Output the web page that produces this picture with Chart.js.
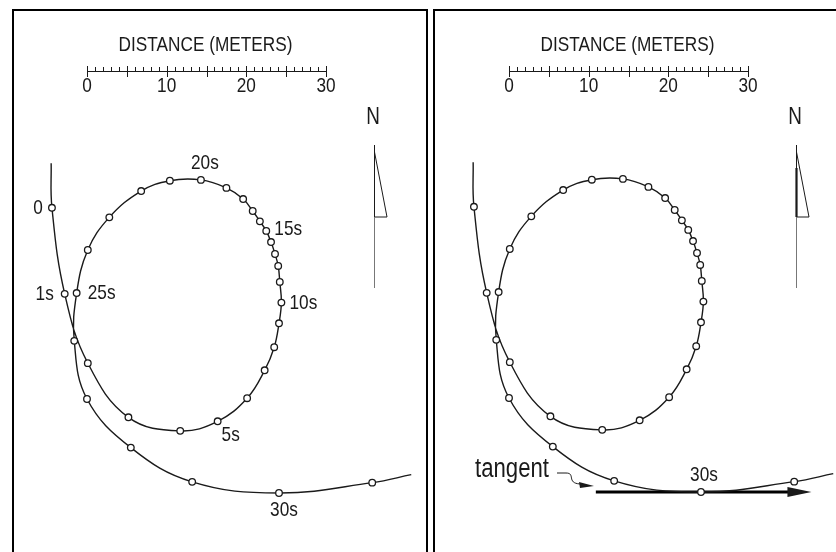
<!DOCTYPE html>
<html>
<head>
<meta charset="utf-8">
<script src="https://cdn.jsdelivr.net/npm/chart.js@4.4.1/dist/chart.umd.min.js"></script>
<style>
  html, body { margin: 0; padding: 0; background: #fff; }
  body { width: 836px; height: 552px; position: relative; overflow: hidden; }
  .frame { position: absolute; border: 2px solid #000; box-sizing: border-box; }
  canvas { position: absolute; }
</style>
</head>
<body>
<div class="frame" style="left:12px; top:9px; width:416px; height:600px;"></div>
<div class="frame" style="left:433px; top:9px; width:420px; height:600px;"></div>
<canvas id="left" width="412" height="541" style="left:14px; top:11px;"></canvas>
<canvas id="right" width="401" height="541" style="left:435px; top:11px;"></canvas>
<script>
// path of the object, meters east / north; first and last entries only extend the line
const timeSec = [null, 0, 1, 2, 3, 4, 5, 6, 7, 8, 9, 10, 11, 12, 13, 14, 15,
  16, 17, 18, 19, 20, 21, 22, 23, 24, 25, 26, 27, 28, 29, 30, 31, null];
const pathX = [-4.5, -4.4, -2.8, 0.1, 5.2, 11.7, 16.4, 20.1, 22.3, 23.5, 24.1,
  24.4, 24.2, 24.0, 23.6, 23.1, 22.5, 21.7, 20.8, 19.6, 17.5, 14.3, 10.4, 6.8,
  2.8, 0.1, -1.3, -1.6, 0.0, 5.5, 13.2, 24.1, 35.8, 40.7];
const pathY = [41.4, 35.8, 25.0, 16.3, 9.5, 7.8, 9.0, 11.9, 15.4, 18.3, 21.3,
  23.9, 26.5, 28.5, 30.0, 31.5, 32.9, 34.1, 35.4, 36.9, 38.3, 39.3, 39.2, 37.9,
  34.6, 30.5, 25.1, 19.1, 11.8, 5.7, 1.4, 0.0, 1.3, 2.3];

// labelled times on the left panel
const labelTimes = [0, 1, 5, 10, 15, 20, 25, 30];
const labelText = ["0", "1s", "5s", "10s", "15s", "20s", "25s", "30s"];
const labelOffset = [[-14, 0], [-20, 0], [13, 14], [22, 1], [22, -2], [4, -17], [25, 0], [5, 17]];

// scale bar
const barTicks = [0, 10, 20, 30];
const barMax = 30;

// tangent at 30 s (meters)
const tangentX = [10.9, 35.2];
const tangentY = [0, 0];

const PX_PER_M = 239 / 30;
const FONT = '"Liberation Sans", Arial, sans-serif';
const NARROW = 0.82;
const INK = "#1a1a1a";

const pathData = pathX.map((x, i) => ({ x: x, y: pathY[i] }));
const last = pathData.length - 1;

// condensed text: regular face squeezed horizontally
function text(ctx, str, x, y, size) {
  ctx.save();
  ctx.translate(x, y);
  ctx.scale(NARROW, 1);
  ctx.font = size + "px " + FONT;
  ctx.fillText(str, 0, 0);
  ctx.restore();
}

const drawings = {
  id: "drawings",
  afterDraw(chart, args, opts) {
    const ctx = chart.ctx;
    const xs = chart.scales.x, ys = chart.scales.y;
    const ox = opts.left, oy = opts.top;
    ctx.save();
    ctx.fillStyle = INK;
    ctx.strokeStyle = INK;
    ctx.textAlign = "center";
    ctx.textBaseline = "middle";

    // distance scale bar
    const by = 71 - oy;
    const bx0 = xs.getPixelForValue(0), bx1 = xs.getPixelForValue(barMax);
    ctx.lineWidth = 1;
    ctx.beginPath();
    ctx.moveTo(bx0, by + 0.5);
    ctx.lineTo(bx1, by + 0.5);
    for (let v = 0; v <= barMax; v++) {
      const px = Math.round(xs.getPixelForValue(v)) + 0.5;
      if (v % 5 === 0) {
        ctx.moveTo(px, by - 5);
        ctx.lineTo(px, by + 6);
      } else {
        ctx.moveTo(px, by - 4);
        ctx.lineTo(px, by + 0.5);
      }
    }
    ctx.stroke();
    text(ctx, "DISTANCE (METERS)", (bx0 + bx1) / 2 - 1, 45 - oy, 21);
    barTicks.forEach(v => text(ctx, String(v), xs.getPixelForValue(v), 86 - oy, 21));

    // north arrow
    const nx = opts.northX - ox;
    text(ctx, "N", nx - 1, 118 - oy, 23);
    ctx.lineWidth = 1;
    ctx.beginPath();
    ctx.moveTo(nx + 0.5, 145 - oy);
    ctx.lineTo(nx + 0.5, 217 - oy);
    ctx.moveTo(nx + 0.5, 152 - oy);
    ctx.lineTo(nx + 13, 217 - oy);
    ctx.lineTo(nx + 0.5, 217 - oy);
    ctx.stroke();
    if (opts.thickNorth) {
      ctx.lineWidth = 2.2;
      ctx.beginPath();
      ctx.moveTo(nx + 0.5, 168 - oy);
      ctx.lineTo(nx + 0.5, 217 - oy);
      ctx.stroke();
    }
    ctx.strokeStyle = "#777";
    ctx.lineWidth = 1;
    ctx.beginPath();
    ctx.moveTo(nx + 0.5, 217 - oy);
    ctx.lineTo(nx + 0.5, 288 - oy);
    ctx.stroke();
    ctx.strokeStyle = INK;

    // time labels
    opts.labels.forEach(i => {
      const k = timeSec.indexOf(labelTimes[i]);
      const px = xs.getPixelForValue(pathX[k]) + labelOffset[i][0];
      const py = ys.getPixelForValue(pathY[k]) + labelOffset[i][1];
      text(ctx, labelText[i], px, py, 21);
    });

    if (opts.tangent) {
      const k30 = timeSec.indexOf(30);
      text(ctx, "30s", xs.getPixelForValue(pathX[k30]) + 3, ys.getPixelForValue(pathY[k30]) - 17, 21);
      // arrow head on the tangent
      const hx = xs.getPixelForValue(tangentX[1]);
      const hy = ys.getPixelForValue(tangentY[1]);
      ctx.beginPath();
      ctx.moveTo(hx - 2, hy - 5);
      ctx.lineTo(hx + 22, hy);
      ctx.lineTo(hx - 2, hy + 5);
      ctx.closePath();
      ctx.fill();
      // "tangent" label with squiggle pointer
      text(ctx, "tangent", 512 - ox, 470 - oy, 27);
      ctx.lineWidth = 1;
      ctx.beginPath();
      ctx.moveTo(557 - ox, 473 - oy);
      ctx.lineTo(566 - ox, 473 - oy);
      ctx.bezierCurveTo(576 - ox, 473 - oy, 566 - ox, 483 - oy, 580 - ox, 484 - oy);
      ctx.stroke();
      ctx.beginPath();
      ctx.moveTo(594 - ox, 486 - oy);
      ctx.lineTo(579 - ox, 482 - oy);
      ctx.lineTo(580 - ox, 488 - oy);
      ctx.closePath();
      ctx.fill();
    }
    ctx.restore();
  }
};

function makePanel(id, geo) {
  const canvas = document.getElementById(id);
  const w = canvas.width, h = canvas.height;
  const datasets = [{
    data: pathData,
    showLine: true,
    tension: 0.4,
    borderColor: INK,
    borderWidth: 1.4,
    pointRadius: c => (c.dataIndex === 0 || c.dataIndex === last) ? 0 : 3.3,
    pointBackgroundColor: "#fff",
    pointBorderColor: INK,
    pointBorderWidth: 1.3,
    order: 1
  }];
  if (geo.tangent) {
    datasets.push({
      data: tangentX.map((x, i) => ({ x: x, y: tangentY[i] })),
      showLine: true,
      borderColor: "#000",
      borderWidth: 3,
      pointRadius: 0,
      order: 2
    });
  }
  new Chart(canvas, {
    type: "scatter",
    data: { datasets: datasets },
    options: {
      responsive: false,
      animation: false,
      devicePixelRatio: 1,
      layout: { padding: 0 },
      scales: {
        x: { display: false, min: (geo.left - geo.originX) / PX_PER_M, max: (geo.left + w - geo.originX) / PX_PER_M },
        y: { display: false, min: (geo.originY - geo.top - h) / PX_PER_M, max: (geo.originY - geo.top) / PX_PER_M }
      },
      plugins: {
        legend: { display: false },
        tooltip: { enabled: false },
        drawings: {
          left: geo.left, top: geo.top, northX: geo.northX,
          labels: geo.labels, tangent: geo.tangent, thickNorth: geo.tangent
        }
      }
    },
    plugins: [drawings]
  });
}

makePanel("left", { left: 14, top: 11, originX: 87, originY: 493, northX: 374,
  labels: [0, 1, 2, 3, 4, 5, 6, 7], tangent: false });
makePanel("right", { left: 435, top: 11, originX: 509, originY: 492, northX: 796,
  labels: [], tangent: true });
</script>
</body>
</html>
